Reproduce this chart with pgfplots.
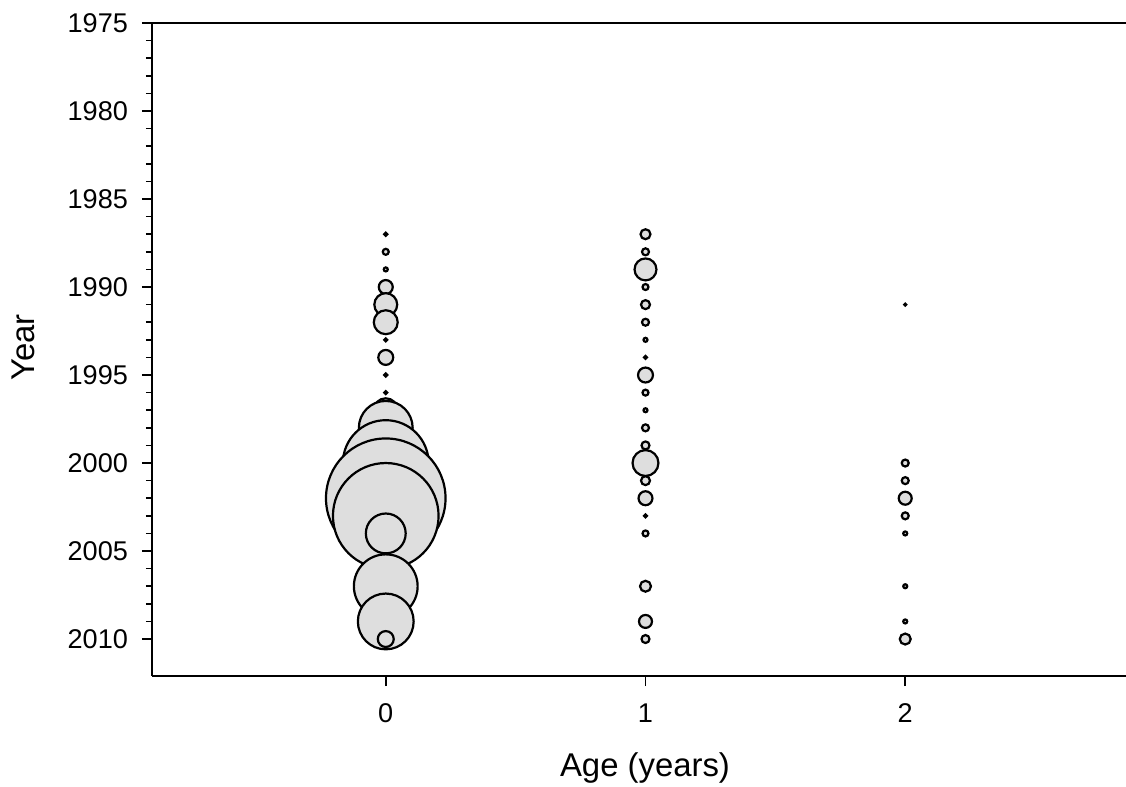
\documentclass[border=0pt]{standalone}
\usepackage{fontspec}
\setmainfont{Liberation Sans}
\usepackage{pgfplots}
\usepackage{pgfplotstable}
\pgfplotsset{compat=1.18}
\definecolor{bubble}{gray}{0.87}
% age, year, bubble radius (px in the reference)
\pgfplotstableread{
x y r
0 1987 1.5
0 1988 3
0 1989 2
0 1990 7
0 1991 11.5
0 1992 12
0 1993 1.5
0 1994 7.5
0 1995 1.5
0 1996 1.5
0 1997 12
0 1998 27
0 2000 43
0 2002 60
0 2003 53
0 2004 20
0 2007 32
0 2009 28
0 2010 8
1 1987 5
1 1988 3.5
1 1989 11
1 1990 3
1 1991 4.5
1 1992 3.5
1 1993 2
1 1994 1.5
1 1995 7.5
1 1996 3
1 1997 2
1 1998 3.5
1 1999 4
1 2000 13
1 2001 4.5
1 2002 7
1 2003 1.5
1 2004 3
1 2007 5.5
1 2009 6.5
1 2010 4
2 1991 1
2 2000 3.5
2 2001 3.5
2 2002 6.5
2 2003 3.5
2 2004 2
2 2007 2
2 2009 2
2 2010 5.5
}\agedata
\begin{document}
\begin{tikzpicture}
\path[use as bounding box] (-76bp,-55.5bp) rectangle (487bp,338bp);
\begin{axis}[
    at={(0,0)}, anchor=south west,
    scale only axis, width=487bp, height=326.5bp,
    xmin=-0.9, xmax=2.85, ymin=1975, ymax=2012.1,
    y dir=reverse,
    axis x line*=bottom, axis y line*=left,
    axis line style={line width=1bp},
    xtick={0,1,2}, ytick={1975,1980,...,2010},
    minor y tick num=4,
    tick align=outside,
    major tick length=5bp, minor tick length=3bp,
    tick style={black, line width=0.8bp},
    /pgf/number format/assume math mode=true,
    /pgf/number format/set thousands separator={},
    ticklabel style={font=\fontsize{13.6}{16}\selectfont},
    yticklabel style={xshift=-3.5bp},
    xticklabel style={yshift=-5.5bp},
    clip=false,
]
\addplot[scatter, only marks, mark=*,
    scatter/use mapped color={draw=black, fill=bubble},
    mark options={line width=1.1bp},
    visualization depends on={0.5*\thisrow{r} \as \rr},
    scatter/@pre marker code/.append style={/tikz/mark size=\rr pt}]
    table[x=x, y=y] {\agedata};
\end{axis}
\draw[line width=1bp] (current axis.north west) -- (current axis.north east);
\node[font=\fontsize{16.5}{19}\selectfont, anchor=base] at ([xshift=3bp, yshift=-50bp]current axis.south) {Age (years)};
\node[font=\fontsize{16.5}{19}\selectfont, rotate=90] at ([xshift=-64.5bp, yshift=1bp]current axis.west) {Year};
\end{tikzpicture}
\end{document}
